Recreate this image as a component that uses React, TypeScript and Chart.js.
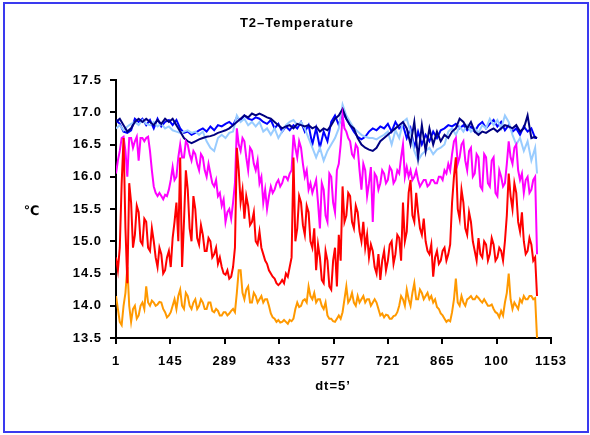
import React, { useEffect, useRef } from "react";
import { Chart, registerables } from "chart.js";
Chart.register(...registerables);

// Sample positions along the time axis
const FINE_IDX: number[] = Array.from({ length: 224 }, (_, i) => 1 + i * 5); // every 5th reading, 1..1116
const COARSE_IDX: number[] = [...Array.from({ length: 112 }, (_, i) => 1 + i * 10), 1116]; // every 10th reading

const X_TICKS = [1, 145, 289, 433, 577, 721, 865, 1009, 1153];
const X_TICK_LABELS = ["1", "145", "289", "433", "577", "721", "865", "100", "1153"];
const Y_TICKS = [13.5, 14.0, 14.5, 15.0, 15.5, 16.0, 16.5, 17.0, 17.5];

// fine grid (224 values)
const RED = [
  14.75, 14.55, 14.9, 15.9, 16.6, 15.2, 14.35, 15.9, 15.6, 14.9, 15.1, 15.55, 15.45, 15.0, 14.95, 15.35,
  15.3, 14.9, 14.85, 15.2, 15.0, 14.75, 14.6, 14.9, 14.8, 14.5, 14.55, 14.75, 14.85, 14.6, 15.05, 15.3,
  15.6, 15.0, 16.3, 14.6, 15.3, 16.1, 15.8, 15.2, 15.0, 15.7, 15.5, 15.05, 14.95, 15.25, 15.1, 14.85,
  14.85, 15.05, 15.0, 14.75, 14.8, 14.9, 14.65, 14.75, 14.6, 14.5, 14.48, 14.55, 14.42, 14.45, 14.6, 14.9,
  16.45, 16.1, 15.6, 15.8, 15.35, 15.7, 15.55, 15.25, 15.3, 15.45, 15.0, 14.95, 15.15, 14.9, 14.8, 14.7,
  14.65, 14.55, 14.5, 14.45, 14.42, 14.35, 14.32, 14.35, 14.4, 14.35, 14.5, 14.45, 14.6, 14.75, 16.3, 15.0,
  15.2, 15.7, 15.6, 15.25, 15.1, 15.55, 15.45, 15.0, 14.9, 15.2, 14.55, 14.95, 14.75, 14.4, 14.35, 14.85,
  14.7, 14.3, 14.25, 14.7, 14.9, 14.3, 15.1, 14.7, 15.85, 15.3, 15.4, 15.75, 15.7, 15.3, 15.2, 15.55,
  15.45, 15.15, 15.0, 15.3, 14.9, 15.1, 14.75, 14.95, 14.85, 14.6, 14.5, 14.8, 14.4, 14.7, 14.85, 14.55,
  14.7, 14.95, 15.0, 14.65, 14.8, 15.1, 15.05, 14.7, 15.6, 15.0, 15.15, 15.75, 15.95, 15.4, 15.3, 15.75,
  15.45, 15.2, 15.1, 15.35, 15.0, 14.85, 14.8, 14.95, 14.45, 14.75, 14.85, 14.65, 14.7, 14.85, 14.9, 14.7,
  14.8, 14.95, 15.6, 16.0, 16.3, 15.5, 15.35, 15.8, 15.6, 15.2, 15.1, 15.45, 15.3, 15.0, 14.85, 14.7,
  15.05, 14.8, 14.75, 15.0, 14.95, 14.7, 14.8, 15.05, 14.95, 14.7, 14.75, 14.9, 14.85, 14.7, 15.0, 15.4,
  16.05, 15.7, 15.5, 15.9, 15.75, 15.3, 15.15, 15.45, 15.0, 14.8, 14.85, 15.05, 14.95, 14.7, 14.75, 14.15,
];

const MAGENTA = [
  16.05, 16.25, 16.4, 16.6, 16.62, 16.4, 16.0, 16.6, 16.6, 16.45, 16.55, 16.62, 16.25, 16.6, 16.6, 16.55,
  16.6, 16.62, 16.4, 16.1, 15.85, 15.75, 15.7, 15.75, 15.7, 15.65, 15.72, 15.7, 15.8, 15.95, 16.15, 15.95,
  16.0, 16.3, 16.5, 16.3, 16.3, 16.55, 16.5, 16.35, 16.25, 16.4, 16.35, 16.2, 16.1, 16.35, 16.3, 16.1,
  16.0, 16.2, 16.05, 15.9, 15.85, 15.95, 15.7, 15.75, 15.55, 15.65, 15.3, 15.45, 15.5, 15.35, 15.6, 15.9,
  16.75, 16.5, 16.4, 16.6, 16.55, 16.3, 16.1, 16.45, 16.4, 16.2, 16.1, 16.25, 15.9, 16.0, 15.6, 15.8,
  15.5, 15.7, 15.85, 15.75, 15.8, 15.9, 15.95, 15.85, 15.9, 16.0, 16.0, 15.95, 16.05, 16.1, 16.65, 16.45,
  16.3, 16.55, 16.45, 16.2, 16.0, 16.1, 15.8, 15.9, 15.75, 15.85, 15.95, 15.6, 15.2, 15.9, 15.8, 15.4,
  15.3, 16.05, 16.0, 15.6, 15.45, 16.1, 16.2, 16.5, 16.95, 16.75, 16.7, 16.6, 16.55, 16.35, 16.3, 16.5,
  16.45, 16.1, 15.8, 16.2, 16.1, 15.7, 15.9, 16.15, 15.3, 16.05, 16.0, 15.8, 15.9, 16.1, 16.05, 15.9,
  15.95, 16.15, 16.1, 15.9, 15.95, 16.1, 16.05, 16.3, 16.5, 16.0, 16.15, 16.0, 16.1, 15.95, 16.0, 16.1,
  15.95, 15.85, 15.9, 15.95, 15.95, 15.85, 15.88, 15.95, 15.95, 15.9, 15.9, 16.0, 16.0, 15.95, 16.1, 16.05,
  16.2, 16.1, 16.35, 16.55, 16.6, 16.2, 16.3, 16.5, 16.55, 16.25, 16.1, 16.4, 16.45, 16.0, 16.05, 16.35,
  16.3, 15.85, 15.8, 16.35, 16.3, 15.9, 15.85, 16.25, 16.3, 15.75, 15.7, 16.1, 16.0, 15.85, 15.9, 16.2,
  16.55, 16.3, 16.2, 16.45, 16.5, 16.1, 15.95, 16.05, 15.75, 15.95, 16.0, 15.75, 15.8, 15.95, 16.0, 14.8,
];

const ORANGE = [
  14.15, 13.95, 13.75, 13.7, 14.0, 14.2, 14.6, 14.0, 13.75, 13.95, 14.0, 13.8, 13.85, 14.0, 14.05, 13.95,
  14.3, 14.05, 14.0, 14.08, 14.05, 14.0, 14.02, 14.06, 14.05, 13.95, 13.9, 13.82, 13.85, 13.9, 14.0, 14.1,
  13.95, 14.15, 14.25, 14.0, 13.95, 14.2, 14.15, 14.0, 13.95, 14.05, 14.1, 13.95, 14.0, 14.1, 14.05, 13.95,
  13.95, 14.05, 14.05, 13.92, 13.9, 13.95, 13.92, 13.85, 13.85, 13.9, 13.9, 13.85, 13.88, 13.92, 13.95, 13.9,
  14.2, 14.55, 14.55, 14.2, 14.1, 14.25, 14.3, 14.05, 14.05, 14.2, 14.15, 14.05, 14.1, 14.15, 14.05, 14.1,
  14.1, 14.0, 13.88, 13.82, 13.8, 13.75, 13.78, 13.74, 13.75, 13.78, 13.75, 13.72, 13.78, 13.76, 13.8, 13.95,
  14.05, 13.98, 14.0, 14.08, 14.1, 14.05, 14.3, 14.15, 14.1, 14.2, 14.05, 14.1, 14.1, 14.0, 13.95, 14.05,
  13.85, 13.8, 13.8, 13.76, 13.75, 13.8, 13.85, 13.8, 13.9, 14.1, 14.3, 14.05, 14.1, 14.2, 14.05, 14.0,
  14.15, 14.05, 14.1, 14.15, 14.05, 14.1, 14.1, 14.0, 14.05, 14.1, 14.05, 13.95, 13.85, 13.88, 13.82, 13.86,
  13.85, 13.8, 13.8, 13.84, 13.85, 13.9, 14.0, 14.15, 14.1, 14.0, 14.25, 14.1, 14.0, 14.2, 14.35, 14.1,
  14.1, 14.25, 14.2, 14.1, 14.15, 14.2, 14.1, 14.15, 14.05, 14.1, 13.98, 13.95, 13.88, 13.85, 13.8, 13.75,
  13.78, 13.76, 13.9, 14.1, 14.42, 14.05, 14.0, 14.15, 14.05, 14.0, 14.1, 14.12, 14.15, 14.1, 14.1, 14.15,
  14.12, 14.08, 14.05, 14.1, 14.05, 14.0, 14.0, 14.02, 13.95, 13.9, 13.88, 13.82, 13.92, 13.85, 14.05, 14.2,
  14.5, 14.1, 13.95, 14.05, 14.0, 13.95, 14.1, 14.05, 14.15, 14.1, 14.1, 14.15, 14.15, 14.1, 14.12, 13.5,
];

// coarse grid (113 values)
const LIGHT_BLUE = [
  16.75, 16.8, 16.72, 16.78, 16.82, 16.85, 16.8, 16.88, 16.82, 16.8, 16.85, 16.78, 16.82, 16.75, 16.78, 16.72, 16.7, 16.68, 16.7,
  16.72, 16.68, 16.7, 16.65, 16.7, 16.55, 16.45, 16.4, 16.6, 16.65, 16.6, 16.68, 16.7, 16.95, 16.85, 16.9, 16.8, 16.85, 16.78,
  16.85, 16.7, 16.75, 16.65, 16.75, 16.6, 16.7, 16.8, 16.85, 16.88, 16.8, 16.85, 16.75, 16.6, 16.45, 16.3, 16.45, 16.25, 16.4,
  16.5, 16.6, 16.75, 17.12, 16.95, 16.85, 16.75, 16.7, 16.65, 16.62, 16.6, 16.6, 16.58, 16.62, 16.65, 16.7, 16.5, 16.72, 16.6,
  16.85, 16.9, 16.7, 16.4, 16.25, 16.35, 16.4, 16.45, 16.35, 16.42, 16.45, 16.5, 16.7, 16.75, 16.65, 16.78, 16.7, 16.8, 16.7,
  16.75, 16.68, 16.8, 16.75, 16.9, 16.8, 16.88, 16.75, 16.95, 16.85, 16.65, 16.5, 16.6, 16.4, 16.55, 16.25, 16.45, 16.05,
];

const NAVY = [
  16.85, 16.9, 16.8, 16.7, 16.75, 16.85, 16.9, 16.85, 16.9, 16.85, 16.8, 16.88, 16.82, 16.9, 16.85, 16.9, 16.8, 16.7, 16.6,
  16.55, 16.52, 16.55, 16.58, 16.6, 16.62, 16.63, 16.65, 16.68, 16.7, 16.72, 16.75, 16.8, 16.85, 16.9, 16.95, 16.92, 16.98, 16.95,
  16.98, 16.95, 16.92, 16.9, 16.85, 16.8, 16.75, 16.78, 16.8, 16.75, 16.82, 16.8, 16.78, 16.8, 16.75, 16.78, 16.7, 16.75, 16.72,
  16.8, 16.9, 16.95, 17.05, 16.9, 16.8, 16.75, 16.6, 16.5, 16.45, 16.42, 16.4, 16.45, 16.55, 16.6, 16.65, 16.7, 16.75, 16.8,
  16.85, 16.75, 16.5, 16.85, 16.3, 16.8, 16.4, 16.75, 16.5, 16.7, 16.55, 16.65, 16.6, 16.7, 16.75, 16.9, 16.85, 16.75, 16.85,
  16.7, 16.65, 16.7, 16.68, 16.72, 16.75, 16.7, 16.75, 16.8, 16.78, 16.75, 16.8, 16.7, 16.75, 16.95, 16.6, 16.62, 16.6,
];

const BLUE = [
  16.88, 16.82, 16.7, 16.68, 16.72, 16.9, 16.85, 16.9, 16.8, 16.88, 16.75, 16.9, 16.78, 16.85, 16.88, 16.8, 16.88, 16.75, 16.68,
  16.7, 16.65, 16.68, 16.72, 16.75, 16.7, 16.78, 16.72, 16.8, 16.78, 16.82, 16.85, 16.8, 16.92, 16.88, 16.95, 16.9, 16.88, 16.92,
  16.9, 16.85, 16.82, 16.88, 16.75, 16.82, 16.7, 16.78, 16.72, 16.8, 16.75, 16.85, 16.7, 16.8, 16.5, 16.75, 16.45, 16.7, 16.55,
  16.85, 16.95, 16.8, 17.0, 16.9, 16.8, 16.7, 16.62, 16.58, 16.62, 16.7, 16.75, 16.72, 16.78, 16.75, 16.82, 16.7, 16.85, 16.75,
  16.8, 16.6, 16.75, 16.45, 16.7, 16.5, 16.65, 16.55, 16.7, 16.6, 16.72, 16.75, 16.8, 16.78, 16.82, 16.75, 16.8, 16.72, 16.78,
  16.7, 16.8, 16.85, 16.75, 16.82, 16.88, 16.78, 16.85, 16.72, 16.8, 16.7, 16.75, 16.65, 16.78, 16.7, 16.75, 16.6, 16.6,
];

const SERIES = [
  { name: "red", color: "#ff0000", idx: FINE_IDX, values: RED, order: 1 },
  { name: "magenta", color: "#ff00ff", idx: FINE_IDX, values: MAGENTA, order: 2 },
  { name: "navy", color: "#000080", idx: COARSE_IDX, values: NAVY, order: 3 },
  { name: "lightblue", color: "#99ccff", idx: COARSE_IDX, values: LIGHT_BLUE, order: 4 },
  { name: "blue", color: "#0000ff", idx: COARSE_IDX, values: BLUE, order: 5 },
  { name: "orange", color: "#ff9900", idx: FINE_IDX, values: ORANGE, order: 6 },
];

const FONT = "'Liberation Sans', Arial, 'DejaVu Sans', sans-serif";

const decor = {
  id: "decor",
  beforeDraw(chart: any) {
    const ctx = chart.ctx;
    ctx.save();
    ctx.fillStyle = "#ffffff";
    ctx.fillRect(0, 0, chart.width, chart.height);
    ctx.strokeStyle = "#3a3aef";
    ctx.lineWidth = 2;
    ctx.strokeRect(4, 3, 584, 429);
    ctx.restore();
    ctx.letterSpacing = "1px";
  },
  afterDraw(chart: any) {
    const ctx = chart.ctx;
    ctx.save();
    ctx.fillStyle = "#000";
    ctx.letterSpacing = "1px";
    ctx.textAlign = "center";
    ctx.textBaseline = "middle";
    ctx.font = `bold 13px ${FONT}`;
    ctx.fillText("T2\u2013Temperature", 297, 23);
    ctx.fillText("dt=5\u2019", 333, 386);
    ctx.fillText("\u2103", 32, 211);
    ctx.restore();
  },
};

export default function App() {
  const ref = useRef<HTMLCanvasElement | null>(null);
  useEffect(() => {
    document.body.style.margin = "0";
    const canvas = ref.current!;
    const chart = new Chart(canvas, {
      type: "line",
      data: {
        datasets: SERIES.map((s) => ({
          label: s.name,
          data: s.values.map((v, i) => ({ x: s.idx[i], y: v })),
          borderColor: s.color,
          backgroundColor: s.color,
          borderWidth: 2,
          pointRadius: 0,
          tension: 0,
          fill: false,
          order: s.order,
        })),
      },
      options: {
        animation: false,
        responsive: false,
        devicePixelRatio: 1,
        layout: { padding: { left: 0, right: 39, top: 80, bottom: 0 } },
        plugins: { legend: { display: false }, tooltip: { enabled: false }, title: { display: false } },
        scales: {
          x: {
            type: "linear",
            min: 1,
            max: 1153,
            afterBuildTicks: (scale: any) => {
              scale.ticks = X_TICKS.map((v) => ({ value: v }));
            },
            afterFit: (scale: any) => {
              scale.height = 97;
            },
            ticks: {
              autoSkip: false,
              maxRotation: 0,
              minRotation: 0,
              padding: 10,
              color: "#000",
              font: { family: FONT, size: 13, weight: "bold" },
              callback: (v: any) => {
                const i = X_TICKS.indexOf(Number(v));
                return i >= 0 ? X_TICK_LABELS[i] : "";
              },
            },
            grid: { drawOnChartArea: false, drawTicks: true, tickLength: 6, color: "#000", lineWidth: 2 },
            border: { display: true, color: "#000", width: 2 },
          },
          y: {
            type: "linear",
            min: 13.5,
            max: 17.5,
            afterBuildTicks: (scale: any) => {
              scale.ticks = Y_TICKS.map((v) => ({ value: v }));
            },
            afterFit: (scale: any) => {
              scale.width = 116;
            },
            ticks: {
              padding: 8,
              color: "#000",
              font: { family: FONT, size: 13, weight: "bold" },
              callback: (v: any) => Number(v).toFixed(1),
            },
            grid: { drawOnChartArea: false, drawTicks: true, tickLength: 6, color: "#000", lineWidth: 2 },
            border: { display: true, color: "#000", width: 2 },
          },
        },
      },
      plugins: [decor],
    });
    return () => chart.destroy();
  }, []);
  return (
    <div style={{ position: "absolute", left: 0, top: 0, width: 590, height: 435 }}>
      <canvas ref={ref} width={590} height={435} style={{ display: "block", width: 590, height: 435 }} />
    </div>
  );
}
